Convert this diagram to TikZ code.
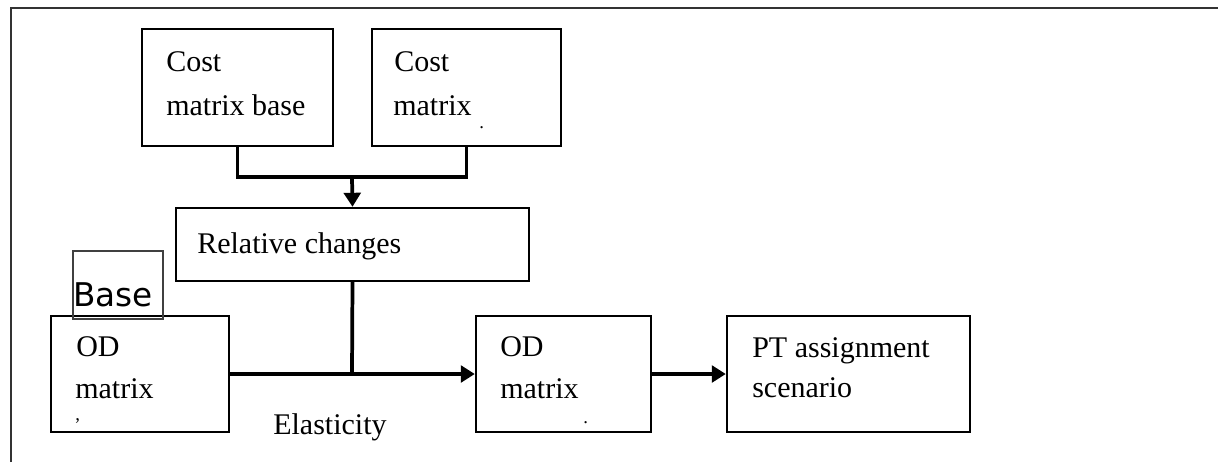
\documentclass[tikz,border=0pt]{standalone}
\usepackage{fontspec}
\setmainfont{Liberation Serif}
\newfontfamily\labelsans{DejaVu Sans}
\usetikzlibrary{arrows.meta,fit}

\begin{document}
\begin{tikzpicture}[x=0.75pt,y=-0.75pt,
  box/.style={draw=black,line width=1.8pt,inner sep=0pt},
  tagbox/.style={draw=black!75,line width=0.8pt,inner sep=0pt},
  txt/.style={anchor=base west,inner sep=0pt,font=\fontsize{22.5}{27}\selectfont},
  dot/.style={anchor=base west,inner sep=0pt,font=\fontsize{14}{16}\selectfont},
  link/.style={line width=2.8pt},
  flow/.style={line width=2.8pt,-{Triangle[length=10.5pt,width=12.5pt]}}]

\useasboundingbox (0,0) rectangle (1218,462);

% outer frame (open to the right and bottom)
\coordinate (frTL) at (11,8);
\coordinate (frTR) at (1218,8);
\coordinate (frBL) at (11,462);
\draw[black!80,line width=1.6pt] (frBL) -- (frTL) -- (frTR);

% boxes
\node[box,fit={(142,29) (333,146)}] (cmb) {};
\node[box,fit={(372,29) (561,146)}] (cm) {};
\node[box,fit={(176,208) (529,281)}] (rel) {};
\node[box,fit={(51,316) (229,432)}] (odb) {};
\node[box,fit={(476,316) (651,432)}] (od) {};
\node[box,fit={(727,316) (970,432)}] (pt) {};
\node[tagbox,fit={(73,251) (163,319)}] (basebox) {};

% texts
\node[txt] (t1) at (166,71) {Cost};
\node[txt] (t2) at (166,115) {matrix base};
\node[txt] (t3) at (394,71) {Cost};
\node[txt] (t4) at (393,115) {matrix};
\node[dot] (d1) at (479,128) {.};
\node[txt] (t5) at (197,253) {Relative changes};
\node[anchor=base west,inner sep=0pt,font=\labelsans\fontsize{24.5}{29}\selectfont] (tb) at (73,306) {Base};
\node[txt] (t6) at (76,356) {OD};
\node[txt] (t7) at (75,398) {matrix};
\node[dot] (d2) at (75,420) {,};
\node[txt] (t8) at (500,356) {OD};
\node[txt] (t9) at (500,398) {matrix};
\node[dot] (d3) at (583,423) {.};
\node[txt] (t10) at (752,357) {PT assignment};
\node[txt] (t11) at (752,397) {scenario};
\node[txt] (t12) at (273,434) {Elasticity};

% connectors
\coordinate (join) at (352,177);
\coordinate (hub) at (352,374);
\draw[link] (cmb.south) |- (join) -| (cm.south);
\draw[flow] (join) -- (rel.north);
\draw[link] (rel.south) -- (hub);
\draw[flow] (odb.east) -- (od.west);
\draw[flow] (od.east) -- (pt.west);
\end{tikzpicture}
\end{document}
